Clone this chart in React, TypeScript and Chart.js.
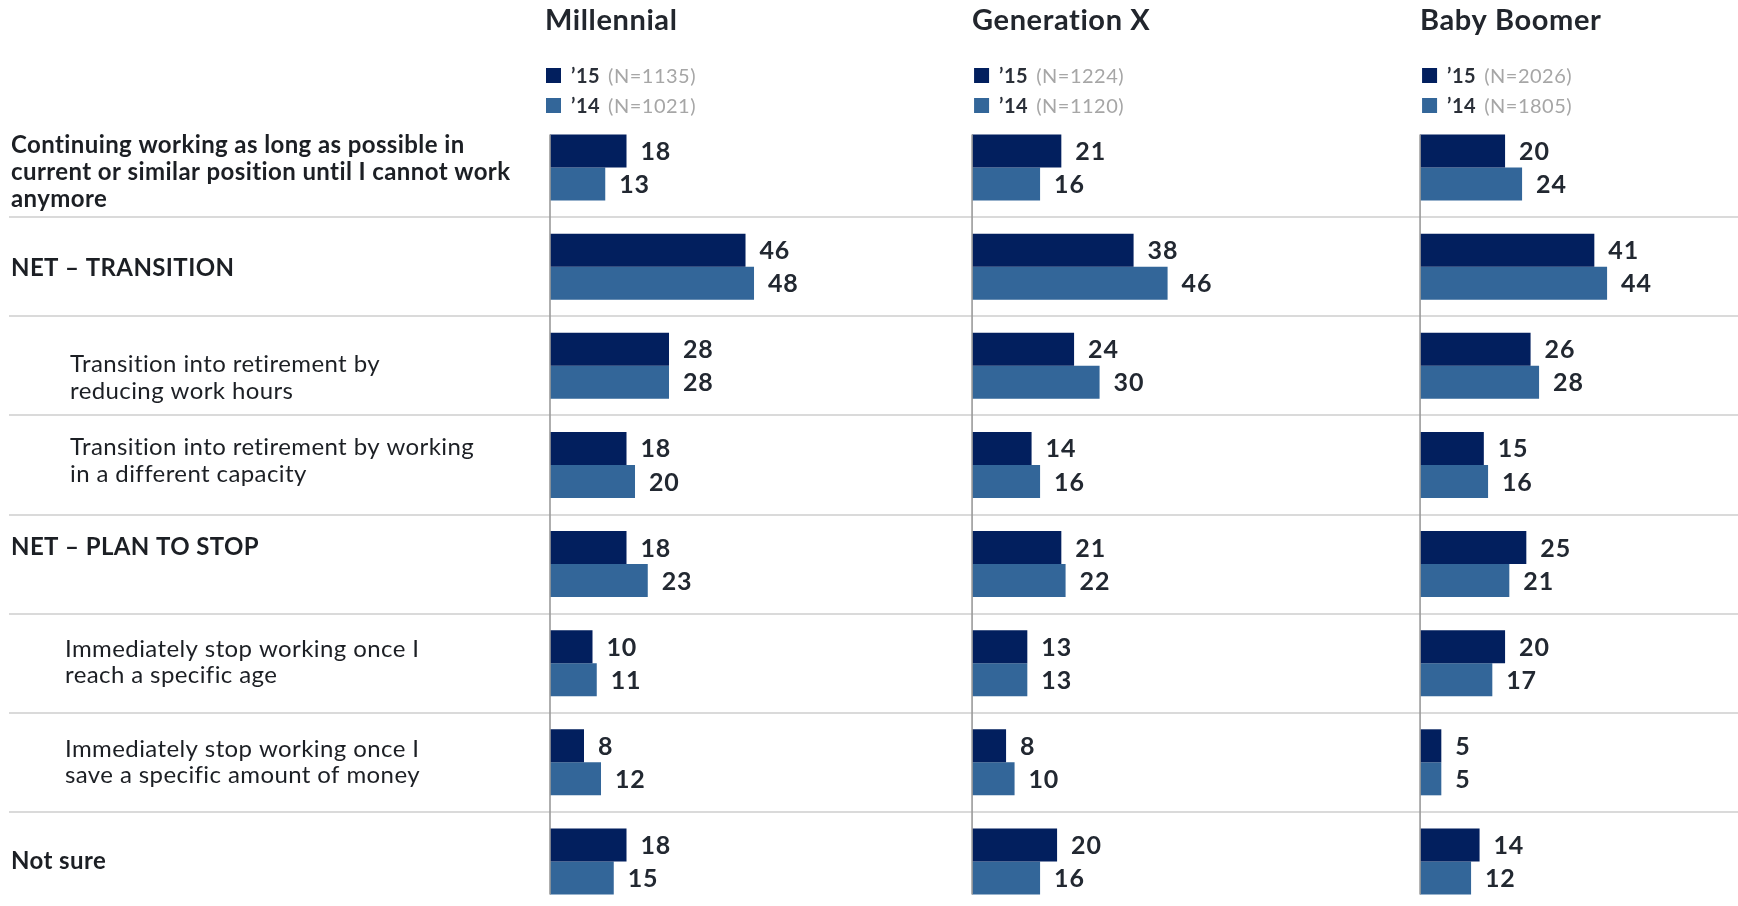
import React, { useEffect, useRef } from "react";
import { Chart, registerables } from "chart.js";

Chart.register(...registerables);

// ---------------- data ----------------
const categories: string[][] = [
  ["Continuing working as long as possible in", "current or similar position until I cannot work", "anymore"],
  ["NET – TRANSITION"],
  ["Transition into retirement by", "reducing work hours"],
  ["Transition into retirement by working", "in a different capacity"],
  ["NET – PLAN TO STOP"],
  ["Immediately stop working once I", "reach a specific age"],
  ["Immediately stop working once I", "save a specific amount of money"],
  ["Not sure"],
];
const topLevel = [true, true, false, false, true, false, false, true];

const generations = ["Millennial", "Generation X", "Baby Boomer"];
const yearLabels = ["’15", "’14"];

const millennial15 = [18, 46, 28, 18, 18, 10, 8, 18];
const millennial14 = [13, 48, 28, 20, 23, 11, 12, 15];
const genX15 = [21, 38, 24, 14, 21, 13, 8, 20];
const genX14 = [16, 46, 30, 16, 22, 13, 10, 16];
const boomer15 = [20, 41, 26, 15, 25, 20, 5, 14];
const boomer14 = [24, 44, 28, 16, 21, 17, 5, 12];

const sample15 = [1135, 1224, 2026];
const sample14 = [1021, 1120, 1805];

const series15 = [millennial15, genX15, boomer15];
const series14 = [millennial14, genX14, boomer14];

// ---------------- layout / style ----------------
const W = 1738;
const H = 912;
const panelRange = [99.3, 105.4, 74.8]; // axis span (in %) of each panel -> equal px per unit
const labelX = [11, 11, 70, 70, 11, 65, 65, 11];
const labelDy = [5, 2, 12, -4, -17, -1, 0, 0];
const LINE_H = 26.8;
const titleDx = [-5, 0, 0];
const legendDx = [-4, 2, 2];

const C15 = "#021f5e";
const C14 = "#336699";
const TEXT = "#1c1f24";
const NUM = "#222831";
const GREY = "#a6a6a6";
const SEP = "#dadada";
const AXIS = "#9a9a9a";
const FONT = "Lato, 'Open Sans', sans-serif";

function setSpacing(ctx: any, px: number) {
  if ("letterSpacing" in ctx) ctx.letterSpacing = `${px}px`;
}

const decorPlugin = {
  id: "decor",
  afterDatasetsDraw(chart: any) {
    const ctx = chart.ctx;
    // vertical axis line of each panel, spanning the bars
    generations.forEach((_g, p) => {
      const xs = chart.scales["x" + p];
      const x0 = xs.getPixelForValue(0);
      const first = chart.getDatasetMeta(p * 2).data[0];
      const last = chart.getDatasetMeta(p * 2 + 1).data[categories.length - 1];
      const top = first.y - first.height / 2;
      const bottom = last.y + last.height / 2;
      ctx.save();
      ctx.strokeStyle = AXIS;
      ctx.lineWidth = 1.6;
      ctx.beginPath();
      ctx.moveTo(x0, top);
      ctx.lineTo(x0, bottom);
      ctx.stroke();
      ctx.restore();
    });
    // value labels
    ctx.save();
    ctx.font = `700 25px ${FONT}`;
    setSpacing(ctx, 0.8);
    ctx.fillStyle = NUM;
    ctx.textAlign = "left";
    ctx.textBaseline = "middle";
    chart.data.datasets.forEach((ds: any, di: number) => {
      const meta = chart.getDatasetMeta(di);
      meta.data.forEach((bar: any, i: number) => {
        ctx.fillText(String(ds.data[i]), bar.x + 14, bar.y + 1);
      });
    });
    ctx.restore();
  },
  afterDraw(chart: any) {
    const ctx = chart.ctx;
    const ys = chart.scales.y;
    ctx.save();
    // category labels
    ctx.fillStyle = TEXT;
    ctx.textAlign = "left";
    ctx.textBaseline = "middle";
    setSpacing(ctx, 0.4);
    categories.forEach((lines, i) => {
      ctx.font = `${topLevel[i] ? 700 : 400} 24px ${FONT}`;
      const cy = ys.getPixelForValue(i) + labelDy[i];
      const y0 = cy - ((lines.length - 1) * LINE_H) / 2;
      lines.forEach((line, k) => ctx.fillText(line, labelX[i], y0 + k * LINE_H));
    });
    // titles and legends
    generations.forEach((g, p) => {
      const x0 = chart.scales["x" + p].getPixelForValue(0);
      ctx.textBaseline = "alphabetic";
      ctx.fillStyle = "#22262d";
      ctx.font = `700 29px ${FONT}`;
      setSpacing(ctx, 0.6);
      ctx.fillText(g, x0 + titleDx[p], 30);
      const rows = [
        { color: C15, year: yearLabels[0], n: sample15[p], base: 83 },
        { color: C14, year: yearLabels[1], n: sample14[p], base: 113 },
      ];
      rows.forEach((r) => {
        const sx = x0 + legendDx[p];
        ctx.fillStyle = r.color;
        ctx.fillRect(sx, r.base - 15, 15, 15);
        setSpacing(ctx, 0.5);
        ctx.font = `700 20px ${FONT}`;
        ctx.fillStyle = "#2a2f38";
        const tx = sx + 25;
        ctx.fillText(r.year, tx, r.base);
        const w = ctx.measureText(r.year).width;
        ctx.font = `400 20px ${FONT}`;
        ctx.fillStyle = GREY;
        ctx.fillText(`(N=${r.n})`, tx + w + 8, r.base);
      });
    });
    ctx.restore();
  },
};

function buildConfig(): any {
  const datasets: any[] = [];
  generations.forEach((g, p) => {
    datasets.push({
      label: `${g} ${yearLabels[0]}`,
      data: series15[p],
      xAxisID: "x" + p,
      stack: "y15",
      backgroundColor: C15,
      borderWidth: 0,
      categoryPercentage: 0.666,
      barPercentage: 1,
    });
    datasets.push({
      label: `${g} ${yearLabels[1]}`,
      data: series14[p],
      xAxisID: "x" + p,
      stack: "y14",
      backgroundColor: C14,
      borderWidth: 0,
      categoryPercentage: 0.666,
      barPercentage: 1,
    });
  });

  const sepColor = (c: any) => (c.index === 0 ? "rgba(0,0,0,0)" : SEP);
  const scales: any = {
    y: {
      type: "category",
      position: "left",
      offset: true,
      ticks: { display: false },
      border: { display: false },
      grid: {
        offset: true,
        drawTicks: true,
        tickLength: 541,
        lineWidth: 2,
        color: sepColor,
        tickColor: sepColor,
      },
    },
  };
  generations.forEach((_g, p) => {
    scales["x" + p] = {
      type: "linear",
      position: "bottom",
      stack: "panels",
      stackWeight: panelRange[p],
      min: 0,
      max: panelRange[p],
      display: false,
    };
  });

  return {
    type: "bar",
    data: { labels: categories, datasets },
    options: {
      indexAxis: "y",
      responsive: false,
      maintainAspectRatio: false,
      devicePixelRatio: 1,
      animation: false,
      layout: { padding: { left: 9, top: 118, right: 0, bottom: 1 } },
      plugins: { legend: { display: false }, tooltip: { enabled: false }, title: { display: false } },
      scales,
    },
    plugins: [decorPlugin],
  };
}

export default function App() {
  const ref = useRef<HTMLCanvasElement>(null);
  useEffect(() => {
    const canvas = ref.current;
    if (!canvas) return;
    const chart = new Chart(canvas, buildConfig());
    let alive = true;
    const fonts: any = (document as any).fonts;
    if (fonts && fonts.load) {
      Promise.all([fonts.load(`700 20px Lato`), fonts.load(`400 20px Lato`)])
        .then(() => {
          if (alive) chart.update();
        })
        .catch(() => {});
    }
    return () => {
      alive = false;
      chart.destroy();
    };
  }, []);
  return (
    <div
      style={{
        position: "fixed",
        left: 0,
        top: 0,
        width: W,
        height: 906,
        overflow: "hidden",
        background: "#ffffff",
      }}
    >
      <canvas ref={ref} width={W} height={H} style={{ display: "block", width: W, height: H }} />
    </div>
  );
}
